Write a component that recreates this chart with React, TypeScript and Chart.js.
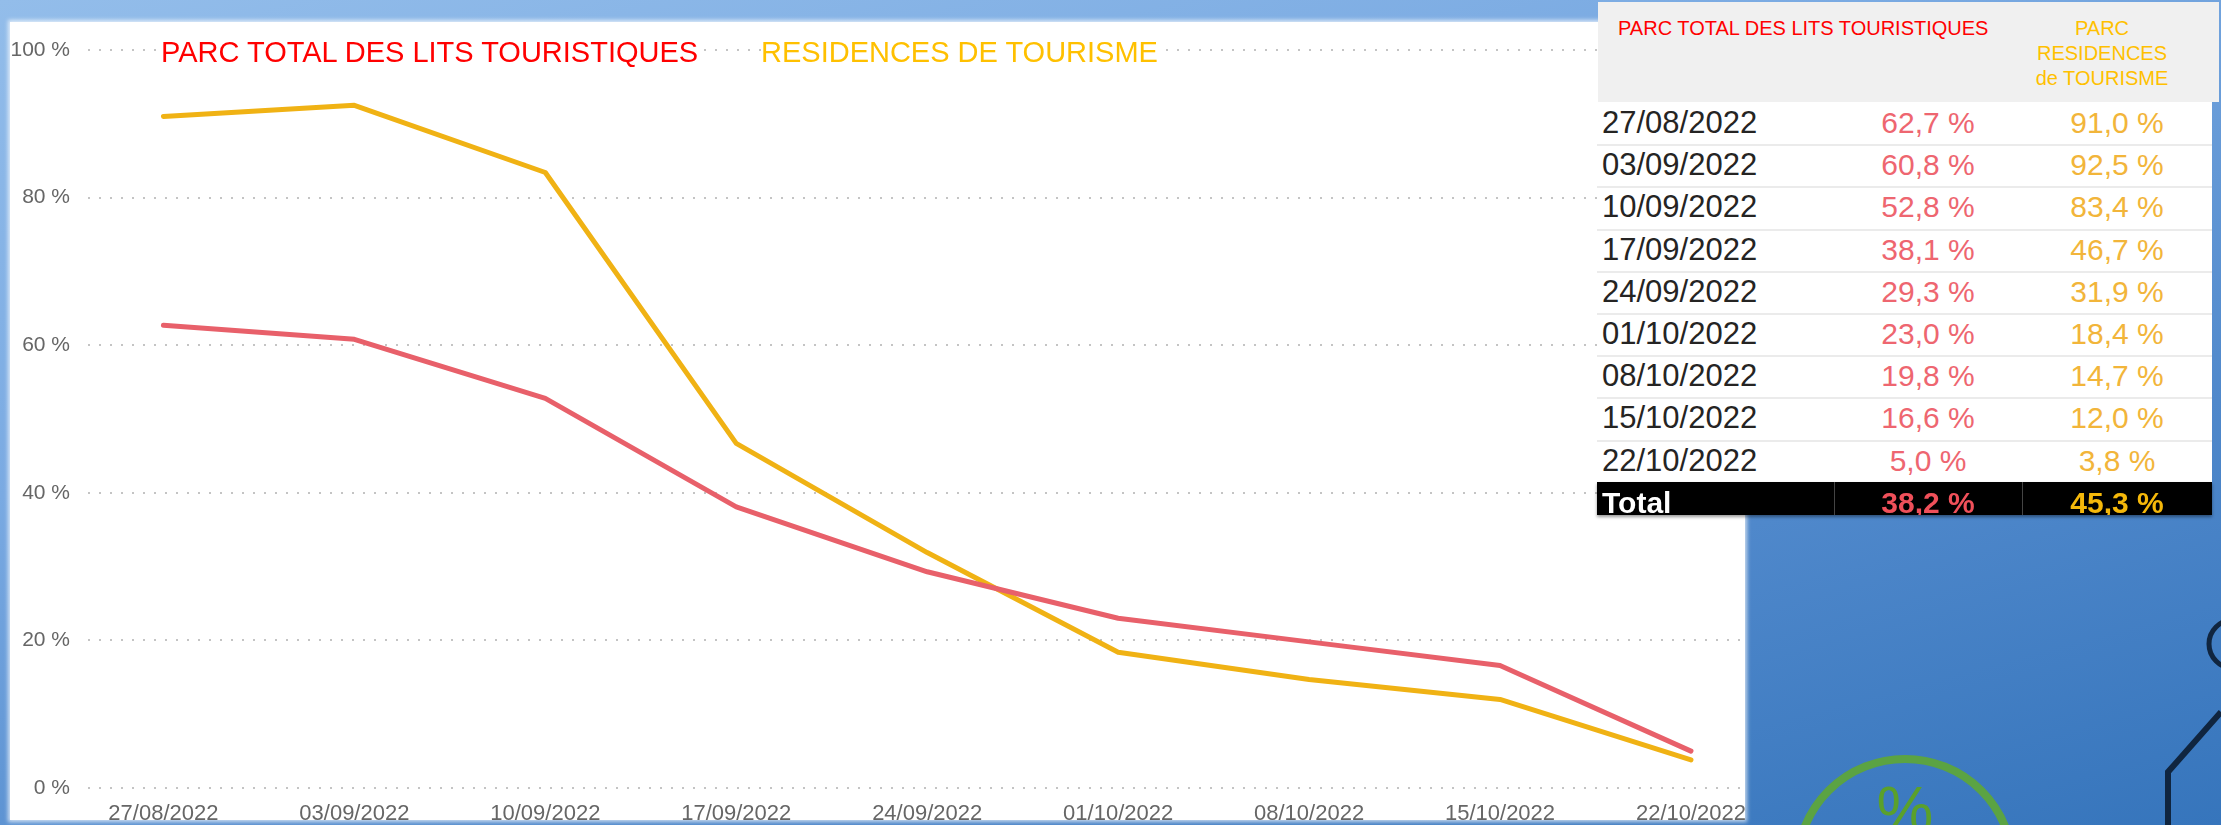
import React, { useEffect, useRef } from "react";
import { Chart, registerables } from "chart.js";

Chart.register(...registerables);

const dates = [
  "27/08/2022",
  "03/09/2022",
  "10/09/2022",
  "17/09/2022",
  "24/09/2022",
  "01/10/2022",
  "08/10/2022",
  "15/10/2022",
  "22/10/2022",
];
const parcTotal = [62.7, 60.8, 52.8, 38.1, 29.3, 23.0, 19.8, 16.6, 5.0];
const residences = [91.0, 92.5, 83.4, 46.7, 31.9, 18.4, 14.7, 12.0, 3.8];
const totalParc = 38.2;
const totalResidences = 45.3;
const yTicks = [0, 20, 40, 60, 80, 100];

const titleParc = "PARC TOTAL DES LITS TOURISTIQUES";
const titleResidences = "RESIDENCES DE TOURISME";

const RED_LINE = "#E8606A";
const GOLD_LINE = "#F0B214";
const FONT = "'Liberation Sans', Arial, sans-serif";

const fmt = (v: number) => v.toFixed(1).replace(".", ",") + " %";

function LineChart() {
  const ref = useRef<HTMLCanvasElement | null>(null);
  useEffect(() => {
    if (!ref.current) return;
    const chart = new Chart(ref.current, {
      type: "line",
      data: {
        datasets: [
          {
            label: titleParc,
            data: parcTotal.map((v, i) => ({ x: i, y: v })),
            borderColor: RED_LINE,
            backgroundColor: RED_LINE,
            borderWidth: 5,
            pointRadius: 0,
            tension: 0,
            borderJoinStyle: "round",
            borderCapStyle: "round",
          },
          {
            label: titleResidences,
            data: residences.map((v, i) => ({ x: i, y: v })),
            borderColor: GOLD_LINE,
            backgroundColor: GOLD_LINE,
            borderWidth: 5,
            pointRadius: 0,
            tension: 0,
            borderJoinStyle: "round",
            borderCapStyle: "round",
          },
        ],
      },
      options: {
        animation: false,
        responsive: false,
        devicePixelRatio: 1,
        layout: { padding: { top: 28, right: 0, left: 0, bottom: 0 } },
        plugins: { legend: { display: false }, tooltip: { enabled: false } },
        scales: {
          x: {
            type: "linear",
            min: -0.395,
            max: 8.283,
            afterBuildTicks: (s: any) => {
              s.ticks = dates.map((_, i) => ({ value: i }));
            },
            afterFit: (s: any) => {
              s.height = 32;
              s.paddingLeft = 0;
              s.paddingRight = 0;
            },
            grid: { display: false },
            border: { display: false },
            ticks: {
              autoSkip: false,
              maxRotation: 0,
              minRotation: 0,
              padding: 5,
              color: "#666666",
              font: { family: FONT, size: 22 },
              callback: (v: any) => dates[v] ?? "",
            },
          },
          y: {
            min: 0,
            max: 100,
            afterBuildTicks: (s: any) => {
              s.ticks = yTicks.map((v) => ({ value: v }));
            },
            afterFit: (s: any) => {
              s.width = 78;
              s.paddingTop = 0;
              s.paddingBottom = 0;
            },
            grid: { color: "#c4c4c4", lineWidth: 2, drawTicks: false },
            border: { display: false, dash: [2, 9] },
            ticks: {
              padding: 18,
              color: "#666666",
              font: { family: FONT, size: 21 },
              callback: (v: any) => v + " %",
            },
          },
        },
      },
    });
    return () => chart.destroy();
  }, []);
  return (
    <canvas
      ref={ref}
      width={1735}
      height={798}
      style={{ position: "absolute", left: 10, top: 22, width: 1735, height: 798 }}
    />
  );
}

function DataTable() {
  const rowTop = 102;
  const rowH = 42.2;
  const colA = { left: 237, width: 188 };
  const colB = { left: 425, width: 190 };
  return (
    <>
      <div
        style={{
          position: "absolute",
          left: 1598,
          top: 2,
          width: 621,
          height: 100,
          background: "#f0f0f0",
          fontFamily: FONT,
          fontSize: 20,
        }}
      >
        <div style={{ position: "absolute", left: 20, top: 16, lineHeight: "20px", color: "#FF0000", whiteSpace: "nowrap" }}>
          {titleParc}
        </div>
        <div
          style={{
            position: "absolute",
            left: 404,
            top: 14,
            width: 200,
            lineHeight: "25px",
            color: "#FFC000",
            textAlign: "center",
          }}
        >
          PARC
          <br />
          RESIDENCES
          <br />
          de TOURISME
        </div>
      </div>
      <div
        style={{
          position: "absolute",
          left: 1597,
          top: rowTop,
          width: 615,
          height: rowH * dates.length,
          background: "#ffffff",
          fontFamily: FONT,
        }}
      >
        {dates.map((d, i) => (
          <div
            key={d}
            style={{
              position: "absolute",
              left: 0,
              top: i * rowH,
              width: 615,
              height: rowH,
              borderTop: i === 0 ? "none" : "2px solid #ebebeb",
              boxSizing: "border-box",
            }}
          >
            <div style={{ position: "absolute", left: 5, top: i === 0 ? 0 : -2, height: rowH, lineHeight: rowH + "px", fontSize: 31, color: "#252423" }}>
              {d}
            </div>
            <div style={{ position: "absolute", left: colA.left, width: colA.width, top: i === 0 ? 0 : -2, lineHeight: rowH + "px", fontSize: 30, color: "#EE6670", textAlign: "center" }}>
              {fmt(parcTotal[i])}
            </div>
            <div style={{ position: "absolute", left: colB.left, width: colB.width, top: i === 0 ? 0 : -2, lineHeight: rowH + "px", fontSize: 30, color: "#F2B53A", textAlign: "center" }}>
              {fmt(residences[i])}
            </div>
          </div>
        ))}
      </div>
      <div
        style={{
          position: "absolute",
          left: 1597,
          top: 482,
          width: 615,
          height: 33,
          background: "#000000",
          overflow: "hidden",
          fontFamily: FONT,
          fontWeight: "bold",
          fontSize: 30,
          boxShadow: "0 2px 3px rgba(0,0,0,0.4)",
        }}
      >
        <div style={{ position: "absolute", left: 5, top: 0, lineHeight: "41px", color: "#ffffff" }}>Total</div>
        <div style={{ position: "absolute", left: colA.left, width: colA.width, top: 0, lineHeight: "41px", color: "#F0505A", textAlign: "center" }}>
          {fmt(totalParc)}
        </div>
        <div style={{ position: "absolute", left: colB.left, width: colB.width, top: 0, lineHeight: "41px", color: "#F5B80A", textAlign: "center" }}>
          {fmt(totalResidences)}
        </div>
        <div style={{ position: "absolute", left: colA.left, top: 0, width: 1, height: 33, background: "#444" }} />
        <div style={{ position: "absolute", left: colB.left, top: 0, width: 1, height: 33, background: "#444" }} />
      </div>
    </>
  );
}

export default function App() {
  return (
    <div
      style={{
        position: "absolute",
        left: 0,
        top: 0,
        width: 2221,
        height: 825,
        overflow: "hidden",
        background: "linear-gradient(165deg, #93bdea 0%, #7aaae2 35%, #4f88cb 70%, #3675bc 100%)",
      }}
    >
      {/* decorations on blue background */}
      <div
        style={{
          position: "absolute",
          left: 1793,
          top: 755,
          width: 224,
          height: 224,
          borderRadius: "50%",
          border: "8px solid #5ba343",
          boxSizing: "border-box",
        }}
      />
      <div
        style={{
          position: "absolute",
          left: 1855,
          top: 778,
          width: 100,
          textAlign: "center",
          fontFamily: FONT,
          fontSize: 64,
          lineHeight: "64px",
          color: "#5aa02c",
        }}
      >
        %
      </div>
      <svg
        width={2221}
        height={825}
        style={{ position: "absolute", left: 0, top: 0 }}
      >
        <circle cx={2233} cy={644} r={24} fill="none" stroke="#10253f" strokeWidth={5} />
        <polyline points="2221,712 2168,772 2168,825" fill="none" stroke="#10253f" strokeWidth={6} />
      </svg>

      {/* white chart panel */}
      <div
        style={{
          position: "absolute",
          left: 10,
          top: 22,
          width: 1735,
          height: 798,
          background: "#ffffff",
          boxShadow: "0 0 4px 2px rgba(255,255,255,0.7)",
        }}
      />
      <LineChart />
      <div
        style={{
          position: "absolute",
          left: 161,
          top: 38,
          fontFamily: FONT,
          fontSize: 29,
          lineHeight: "29px",
          color: "#FF0000",
          background: "#ffffff",
          whiteSpace: "nowrap",
        }}
      >
        {titleParc}
      </div>
      <div
        style={{
          position: "absolute",
          left: 761,
          top: 38,
          fontFamily: FONT,
          fontSize: 29,
          lineHeight: "29px",
          color: "#FFC000",
          background: "#ffffff",
          whiteSpace: "nowrap",
        }}
      >
        {titleResidences}
      </div>
      <DataTable />
    </div>
  );
}
